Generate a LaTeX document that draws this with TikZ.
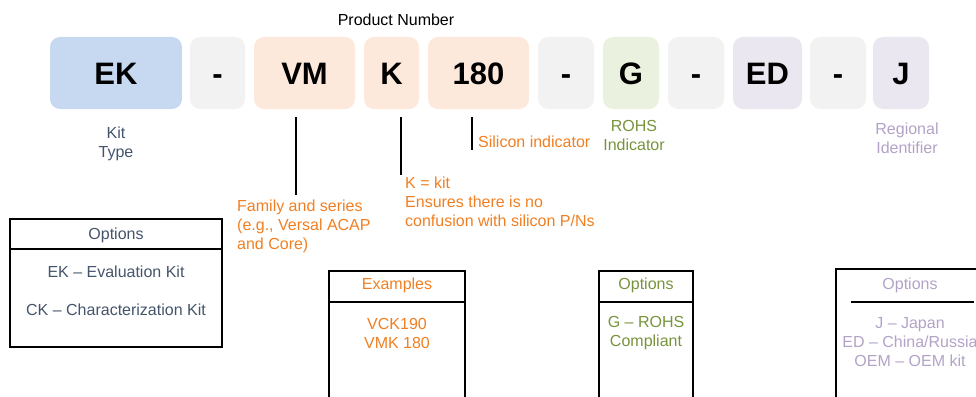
\documentclass[tikz,border=0pt]{standalone}
\usepackage{fontspec}
\setmainfont{Liberation Sans}
\definecolor{cblue}{HTML}{C6D9F0}
\definecolor{cgray}{HTML}{F2F2F2}
\definecolor{cpeach}{HTML}{FCE9DB}
\definecolor{cgreen}{HTML}{EAF1DE}
\definecolor{clav}{HTML}{EBE7F0}
\definecolor{tblue}{HTML}{44546A}
\definecolor{torange}{HTML}{F07F22}
\definecolor{tgreen}{HTML}{77933C}
\definecolor{tlav}{HTML}{B3A2C7}
\tikzset{
  pbox/.style={rounded corners=10pt, minimum height=72pt, inner sep=0pt, text height=22pt, text depth=0pt, font=\fontsize{31}{31}\selectfont\bfseries, text=black},
  lbl/.style={font=\fontsize{16}{19}\selectfont, align=center, inner sep=0pt},
  lbll/.style={font=\fontsize{16}{19}\selectfont, align=left, inner sep=0pt, anchor=north west},
  conn/.style={line width=1.8pt, black},
  obox/.style={line width=1.4pt, black},
}
\begin{document}
\begin{tikzpicture}[x=1pt,y=-1pt]
\useasboundingbox (0,0) rectangle (976,396);
\clip (0,0) rectangle (976,396);
\node[lbl, text=black] (title) at (396,20) {Product Number};
\node[pbox, fill=cblue, minimum width=132pt] (ek) at (116,73) {EK};
\node[pbox, fill=cgray, minimum width=55pt] (d1) at (217.5,73) {-};
\node[pbox, fill=cpeach, minimum width=101pt] (vm) at (304.5,73) {VM};
\node[pbox, fill=cpeach, minimum width=55pt] (k) at (391.5,73) {K};
\node[pbox, fill=cpeach, minimum width=101pt] (n180) at (478.5,73) {180};
\node[pbox, fill=cgray, minimum width=56pt] (d2) at (566,73) {-};
\node[pbox, fill=cgreen, minimum width=56pt] (g) at (631,73) {G};
\node[pbox, fill=cgray, minimum width=56pt] (d3) at (696,73) {-};
\node[pbox, fill=clav, minimum width=69pt] (ed) at (767.5,73) {ED};
\node[pbox, fill=cgray, minimum width=56pt] (d4) at (838,73) {-};
\node[pbox, fill=clav, minimum width=56pt] (j) at (901,73) {J};

\node[lbl, text=tblue] (kit) at (116,144) {Kit\\Type};
\node[lbl, text=tgreen] (rohs) at (634,135) {ROHS\\Indicator};
\node[lbl, text=tlav] (reg) at (907,138) {Regional\\Identifier};
\node[lbl, text=torange, anchor=west] (sil) at (478,142) {Silicon indicator};
\node[lbll, text=torange] (fam) at (237,200) {Family and series\\(e.g., Versal ACAP\\and Core)};
\node[lbll, text=torange] (kk) at (405,177) {K = kit\\Ensures there is no\\confusion with silicon P/Ns};

\coordinate (vmt) at (296,117); \coordinate (vmb) at (296,195);
\coordinate (kt) at (401,117); \coordinate (kb) at (401,175);
\coordinate (st) at (472,117); \coordinate (sb) at (472,150);
\draw[conn] (vmt) -- (vmb);
\draw[conn] (kt) -- (kb);
\draw[conn] (st) -- (sb);

% Kit type options
\draw[obox] (10,219) rectangle (222,347);
\draw[obox] (10,249) -- (222,249);
\node[lbl, text=tblue] (o1h) at (116,235) {Options};
\node[lbl, text=tblue] (o1a) at (116,272) {EK – Evaluation Kit};
\node[lbl, text=tblue] (o1b) at (116,310) {CK – Characterization Kit};

% Examples
\draw[obox] (329,271) rectangle (465,410);
\draw[obox] (329,302) -- (465,302);
\node[lbl, text=torange] (exh) at (397,285) {Examples};
\node[lbl, text=torange] (exb) at (397,333) {VCK190\\VMK 180};

% ROHS options
\draw[obox] (599,271) rectangle (693,410);
\draw[obox] (599,302) -- (693,302);
\node[lbl, text=tgreen] (o2h) at (646,285) {Options};
\node[lbl, text=tgreen] (o2b) at (646,333) {G – ROHS\\Compliant};

% Regional options
\draw[obox] (836,269) rectangle (1000,410);
\draw[line width=1.4pt] (851,302) -- (974,302);
\node[lbl, text=tlav] (o3h) at (910,285) {Options};
\node[lbl, text=tlav] (o3b) at (910,342) {J – Japan\\ED – China/Russia\\OEM – OEM kit};
\end{tikzpicture}
\end{document}
